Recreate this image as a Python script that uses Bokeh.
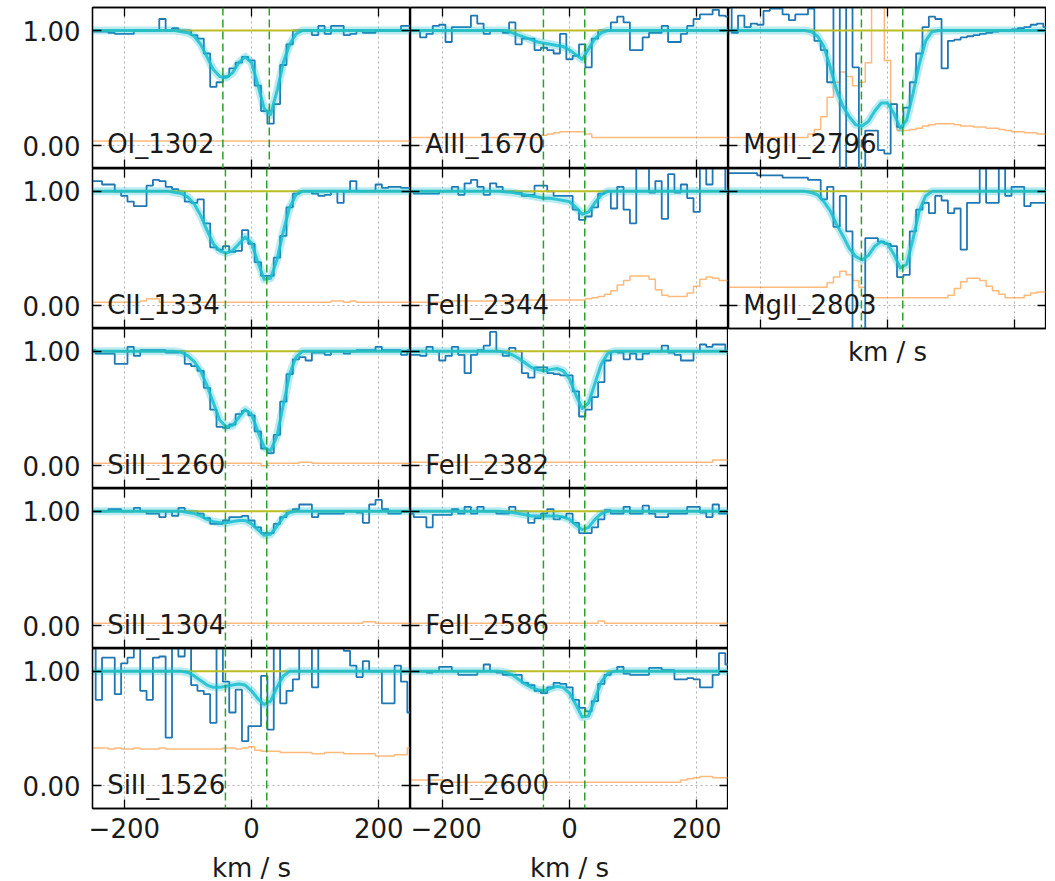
from bokeh.plotting import figure
from bokeh.layouts import row, column
from bokeh.models import Range1d, LinearAxis, FixedTicker, Grid, Span, ColumnDataSource
from bokeh.embed import file_html
from bokeh.resources import INLINE
from bokeh.core.properties import value

# ---------------------------------------------------------------------------
# Velocity grids (km/s): pixel centres of the spectra and knots of the model
# ---------------------------------------------------------------------------
vel = list(range(-250, 251, 10))
model_vel = [-250] + list(range(-140, 111, 10)) + [250]

CONTINUUM = 1.0

# ---------------------------------------------------------------------------
# Normalised flux per transition
# ---------------------------------------------------------------------------
flux_OI_1302 = [0.99, 0.99, 0.99, 0.98, 0.97, 0.97, 0.97, 1.0, 1.0, 1.0,
                1.0, 1.10, 1.0, 1.02, 1.0,
                1.0, 0.96, 0.93, 0.80, 0.51, 0.55, 0.60, 0.67, 0.72, 0.77,
                0.74,
                0.52, 0.30, 0.19, 0.36, 0.70, 0.88, 1.0, 1.0, 1.0, 0.96,
                1.04, 0.97, 1.04, 1.04, 0.96, 0.97, 1.0, 0.98, 0.98, 1.0,
                1.0, 1.0, 1.0, 1.04, 1.04]
flux_CII_1334 = [1.09, 1.09, 1.06, 1.06, 1.0, 0.96, 0.91, 0.87, 0.87, 1.05,
                 1.10, 1.09, 1.04, 1.02, 1.0,
                 0.91, 0.90, 0.93, 0.72, 0.51, 0.49, 0.52, 0.47, 0.48, 0.66,
                 0.54,
                 0.38, 0.26, 0.26, 0.42, 0.61, 0.86, 0.98, 1.0, 1.0, 0.98,
                 0.96, 0.97, 1.0, 0.90, 1.0, 1.09, 1.0, 1.0, 1.0, 1.06,
                 1.03, 1.04, 1.04, 1.03, 1.03]
flux_SiII_1260 = [1.01, 0.98, 0.98, 0.98, 0.89, 0.89, 1.04, 0.96, 1.01, 1.01,
                  1.01, 1.01, 0.99, 0.99, 1.0,
                  0.89, 0.87, 0.83, 0.68, 0.49, 0.34, 0.33, 0.36, 0.45, 0.48,
                  0.44,
                  0.30, 0.15, 0.11, 0.27, 0.56, 0.80, 0.93, 0.95, 0.92, 0.99,
                  0.99, 0.97, 1.0, 1.0, 0.98, 1.0, 1.01, 1.01, 1.01, 1.04,
                  1.01, 1.01, 1.01, 0.97, 1.01]
flux_SiII_1304 = [1.0, 1.0, 1.0, 1.02, 1.02, 1.0, 1.0, 1.03, 1.0, 0.98,
                  0.98, 0.95, 1.0, 0.96, 1.03,
                  1.0, 1.0, 0.98, 0.94, 0.89, 0.89, 0.92, 0.95, 0.95, 0.96,
                  0.92,
                  0.86, 0.81, 0.81, 0.89, 0.95, 1.0, 1.02, 1.06, 1.06, 0.95,
                  0.98, 0.98, 0.98, 0.98, 1.0, 1.0, 0.99, 0.90, 1.06, 1.10,
                  1.02, 0.98, 0.98, 1.0, 1.0]
flux_SiII_1526 = [1.25, 0.75, 1.12, 1.12, 0.80, 1.07, 1.12, 1.25, 0.83, 0.75,
                  1.12, 1.13, 0.42, 1.25, 1.13,
                  1.25, 0.88, 0.83, 0.80, 0.55, 1.25, 0.91, 0.64, 0.84, 0.39,
                  0.52,
                  0.52, 0.96, 0.49, 1.25, 0.72, 0.83, 0.93, 1.25, 1.25, 0.86,
                  1.25, 1.25, 1.25, 1.25, 1.18, 1.05, 0.95, 1.09, 1.0, 1.0,
                  0.72, 0.72, 1.05, 0.91, 0.64]
flux_AlII_1670 = [1.0, 1.0, 0.94, 0.97, 1.04, 1.05, 0.90, 1.03, 1.03, 1.03,
                  1.13, 1.06, 0.97, 1.0, 1.0,
                  0.98, 1.07, 0.88, 0.93, 0.93, 0.83, 0.85, 0.83, 0.80, 0.97,
                  0.75,
                  0.78, 0.88, 0.68, 0.93, 1.0, 1.0, 1.07, 1.12, 1.07, 0.83,
                  0.83, 0.94, 0.98, 0.98, 1.04, 0.90, 0.90, 0.97, 1.04, 1.10,
                  1.14, 1.14, 1.18, 1.13, 1.12]
flux_FeII_2344 = [1.0, 0.98, 0.98, 0.98, 0.98, 1.0, 1.0, 1.04, 0.97, 1.07,
                  1.10, 1.04, 0.97, 1.07, 1.04,
                  1.0, 1.0, 0.99, 0.96, 0.97, 1.05, 1.05, 1.0, 0.96, 0.96,
                  0.96,
                  0.84, 0.75, 0.78, 0.86, 0.98, 1.0, 0.85, 1.04, 0.84, 0.72,
                  1.25, 1.25, 0.99, 1.09, 0.76, 1.15, 0.99, 1.06, 0.94, 0.82,
                  1.25, 1.06, 1.25, 1.25, 1.0]
flux_FeII_2382 = [0.97, 0.97, 0.96, 1.04, 1.0, 0.92, 0.96, 1.04, 0.97, 0.81,
                  0.97, 1.01, 1.05, 1.17, 1.0,
                  0.96, 1.03, 1.0, 0.81, 0.77, 0.86, 0.86, 0.81, 0.80, 0.79,
                  0.79,
                  0.65, 0.43, 0.49, 0.60, 0.73, 0.92, 1.0, 0.99, 0.93, 0.98,
                  0.93, 0.98, 1.0, 1.0, 1.05, 0.99, 0.97, 0.92, 0.92, 1.0,
                  1.06, 1.04, 1.06, 1.06, 1.0]
flux_FeII_2586 = [0.98, 0.95, 0.95, 0.86, 0.97, 0.97, 0.97, 1.02, 0.98, 1.04,
                  0.98, 1.04, 1.0, 1.0, 0.98,
                  0.98, 1.04, 1.0, 1.0, 0.90, 0.94, 0.98, 1.02, 0.93, 0.95,
                  0.98,
                  0.90, 0.81, 0.81, 0.86, 0.93, 1.01, 0.98, 0.98, 1.04, 0.98,
                  0.98, 1.05, 0.98, 0.95, 0.95, 0.98, 0.98, 0.98, 1.04, 1.04,
                  0.99, 0.95, 1.06, 0.98, 0.98]
flux_FeII_2600 = [1.0, 1.0, 1.0, 0.99, 1.0, 1.04, 1.04, 1.0, 0.97, 0.97,
                  0.97, 1.0, 1.06, 1.0, 0.99,
                  0.97, 0.97, 0.97, 0.90, 0.88, 0.83, 0.81, 0.86, 0.90, 0.89,
                  0.86,
                  0.75, 0.68, 0.65, 0.74, 0.89, 0.97, 1.0, 1.04, 0.98, 0.97,
                  0.97, 0.97, 1.03, 1.03, 1.01, 1.01, 0.93, 0.93, 0.94, 0.93,
                  0.86, 0.86, 0.97, 1.16, 1.06]
flux_MgII_2796 = [1.20, 0.98, 1.13, 1.03, 1.06, 1.05, 1.17, 1.19, 1.19, 1.14,
                  1.09, 1.14, 1.14, 1.19, 0.91,
                  0.83, 0.55, 1.25, -0.25, 1.25, 0.68, -0.25, 0.13, 0.13, -0.04,
                  -0.07,
                  0.36, 0.16, 0.33, 0.55, 0.80, 1.03, 1.12, 1.10, 0.67, 0.91,
                  0.92, 0.94, 0.95, 0.96, 0.97, 0.98, 0.99, 1.0, 1.0, 1.01,
                  1.02, 1.03, 1.05, 1.06, 1.03]
flux_MgII_2803 = [1.16, 1.16, 1.16, 1.16, 1.16, 1.14, 1.14, 1.14, 1.14, 1.12,
                  1.12, 1.12, 1.12, 1.10, 1.10,
                  0.93, 1.04, 0.69, 0.96, 0.65, -0.25, -0.25, 0.59, 0.59, 0.56,
                  0.54,
                  0.52, 0.25, 0.27, 0.65, 0.84, 0.90, 0.81, 0.96, 0.92, 0.81,
                  0.85, 0.49, 0.90, 0.90, 1.25, 0.90, 0.90, 1.25, 0.96, 1.04,
                  1.04, 0.87, 0.90, 0.90, 0.90]

# ---------------------------------------------------------------------------
# 1-sigma flux errors
# ---------------------------------------------------------------------------
err_OI_1302 = [0.04, 0.04, 0.04, 0.04, 0.04, 0.04, 0.04, 0.04, 0.04, 0.04,
               0.04, 0.04, 0.04, 0.04, 0.04,
               0.04, 0.04, 0.04, 0.04, 0.04, 0.04, 0.04, 0.04, 0.04, 0.04,
               0.04,
               0.04, 0.04, 0.04, 0.04, 0.04, 0.04, 0.04, 0.04, 0.04, 0.04,
               0.04, 0.04, 0.04, 0.04, 0.04, 0.04, 0.04, 0.04, 0.04, 0.04,
               0.04, 0.04, 0.04, 0.04, 0.04]
err_CII_1334 = [0.03, 0.03, 0.03, 0.03, 0.03, 0.03, 0.03, 0.03, 0.04, 0.06,
                0.06, 0.03, 0.03, 0.03, 0.03,
                0.03, 0.03, 0.03, 0.03, 0.03, 0.03, 0.03, 0.03, 0.03, 0.03,
                0.03,
                0.03, 0.03, 0.03, 0.03, 0.03, 0.03, 0.03, 0.03, 0.03, 0.03,
                0.03, 0.03, 0.04, 0.04, 0.03, 0.04, 0.03, 0.03, 0.03, 0.03,
                0.03, 0.03, 0.03, 0.03, 0.03]
err_SiII_1260 = [0.02, 0.02, 0.02, 0.02, 0.02, 0.02, 0.02, 0.02, 0.02, 0.02,
                 0.02, 0.02, 0.02, 0.02, 0.02,
                 0.02, 0.02, 0.02, 0.02, 0.02, 0.02, 0.02, 0.02, 0.02, 0.02,
                 0.02,
                 0.02, 0.0, 0.02, 0.02, 0.02, 0.02, 0.02, 0.03, 0.03, 0.02,
                 0.02, 0.02, 0.02, 0.02, 0.02, 0.02, 0.02, 0.02, 0.02, 0.02,
                 0.02, 0.02, 0.02, 0.02, 0.02]
err_SiII_1304 = [0.02, 0.02, 0.02, 0.02, 0.02, 0.02, 0.02, 0.02, 0.02, 0.02,
                 0.02, 0.02, 0.02, 0.02, 0.02,
                 0.02, 0.02, 0.02, 0.02, 0.02, 0.02, 0.02, 0.02, 0.02, 0.02,
                 0.02,
                 0.02, 0.02, 0.02, 0.02, 0.02, 0.02, 0.02, 0.02, 0.02, 0.02,
                 0.02, 0.02, 0.02, 0.02, 0.02, 0.02, 0.02, 0.035, 0.035, 0.02,
                 0.02, 0.02, 0.02, 0.02, 0.02]
err_SiII_1526 = [0.33, 0.33, 0.33, 0.32, 0.33, 0.32, 0.32, 0.33, 0.32, 0.32,
                 0.32, 0.33, 0.32, 0.32, 0.32,
                 0.32, 0.32, 0.32, 0.32, 0.32, 0.32, 0.33, 0.33, 0.32, 0.33,
                 0.34,
                 0.31, 0.30, 0.30, 0.30, 0.29, 0.29, 0.29, 0.29, 0.29, 0.28,
                 0.28, 0.29, 0.29, 0.29, 0.28, 0.28, 0.28, 0.28, 0.28, 0.26,
                 0.26, 0.26, 0.27, 0.27, 0.33]
err_AlII_1670 = [0.07, 0.07, 0.07, 0.07, 0.07, 0.07, 0.07, 0.07, 0.07, 0.07,
                 0.07, 0.07, 0.07, 0.07, 0.07,
                 0.07, 0.07, 0.07, 0.07, 0.07, 0.07, 0.09, 0.10, 0.11, 0.12,
                 0.12,
                 0.12, 0.12, 0.10, 0.07, 0.07, 0.07, 0.07, 0.07, 0.07, 0.07,
                 0.07, 0.07, 0.07, 0.07, 0.07, 0.07, 0.07, 0.07, 0.07, 0.07,
                 0.07, 0.07, 0.07, 0.07, 0.07]
err_FeII_2344 = [0.03, 0.03, 0.03, 0.03, 0.03, 0.03, 0.03, 0.04, 0.04, 0.04,
                 0.04, 0.04, 0.04, 0.04, 0.04,
                 0.04, 0.04, 0.05, 0.05, 0.05, 0.05, 0.05, 0.05, 0.05, 0.05,
                 0.05,
                 0.05, 0.05, 0.06, 0.07, 0.08, 0.10, 0.13, 0.18, 0.22, 0.26,
                 0.26, 0.26, 0.23, 0.14, 0.09, 0.08, 0.08, 0.08, 0.11, 0.17,
                 0.23, 0.25, 0.24, 0.22, 0.22]
err_FeII_2382 = [0.03, 0.03, 0.03, 0.03, 0.03, 0.03, 0.03, 0.03, 0.03, 0.03,
                 0.03, 0.03, 0.03, 0.03, 0.03,
                 0.03, 0.03, 0.03, 0.03, 0.03, 0.03, 0.03, 0.03, 0.03, 0.03,
                 0.03,
                 0.03, 0.03, 0.03, 0.03, 0.03, 0.03, 0.03, 0.03, 0.03, 0.03,
                 0.03, 0.03, 0.03, 0.03, 0.03, 0.03, 0.03, 0.03, 0.03, 0.03,
                 0.03, 0.03, 0.05, 0.05, 0.05]
err_FeII_2586 = [0.02, 0.02, 0.02, 0.02, 0.02, 0.02, 0.02, 0.02, 0.02, 0.02,
                 0.02, 0.02, 0.02, 0.02, 0.02,
                 0.02, 0.02, 0.02, 0.02, 0.02, 0.02, 0.02, 0.02, 0.02, 0.02,
                 0.02,
                 0.02, 0.02, 0.02, 0.02, 0.04, 0.02, 0.02, 0.02, 0.02, 0.02,
                 0.02, 0.02, 0.02, 0.02, 0.02, 0.02, 0.02, 0.02, 0.02, 0.02,
                 0.02, 0.02, 0.02, 0.02, 0.02]
err_FeII_2600 = [0.05, 0.05, 0.05, 0.05, 0.05, 0.05, 0.03, 0.03, 0.03, 0.03,
                 0.03, 0.03, 0.03, 0.03, 0.03,
                 0.03, 0.03, 0.03, 0.03, 0.03, 0.03, 0.03, 0.03, 0.03, 0.03,
                 0.03,
                 0.03, 0.03, 0.03, 0.03, 0.03, 0.03, 0.03, 0.03, 0.03, 0.03,
                 0.03, 0.03, 0.03, 0.03, 0.03, 0.03, 0.03, 0.05, 0.06, 0.07,
                 0.08, 0.08, 0.07, 0.07, 0.07]
err_MgII_2796 = [0.07, 0.07, 0.07, 0.07, 0.07, 0.07, 0.07, 0.07, 0.07, 0.07,
                 0.07, 0.07, 0.07, 0.10, 0.14,
                 0.25, 0.42, 0.55, 0.64, 0.60, 0.52, 0.55, 0.72, 1.30, 1.30,
                 0.74,
                 0.36, 0.13, 0.13, 0.14, 0.15, 0.17, 0.18, 0.19, 0.19, 0.19,
                 0.18, 0.17, 0.17, 0.16, 0.16, 0.15, 0.15, 0.14, 0.13, 0.12,
                 0.12, 0.11, 0.11, 0.10, 0.10]
err_MgII_2803 = [0.16, 0.16, 0.16, 0.16, 0.16, 0.16, 0.16, 0.16, 0.16, 0.16,
                 0.16, 0.16, 0.16, 0.16, 0.16,
                 0.16, 0.20, 0.25, 0.30, 0.27, 0.22, 0.16, 0.09, 0.07, 0.07,
                 0.07,
                 0.07, 0.07, 0.07, 0.07, 0.07, 0.07, 0.07, 0.07, 0.07, 0.09,
                 0.15, 0.21, 0.24, 0.24, 0.22, 0.17, 0.13, 0.10, 0.07, 0.07,
                 0.07, 0.09, 0.11, 0.12, 0.12]

# ---------------------------------------------------------------------------
# Two-component absorption model, sampled on model_vel
# ---------------------------------------------------------------------------
model_OI_1302 = [1, 1, 1, 1.0, 0.99, 0.98, 0.95, 0.88, 0.77, 0.66, 0.60, 0.59, 0.63, 0.72,
                 0.77, 0.72, 0.53, 0.32, 0.27, 0.47, 0.72, 0.88, 0.97, 1.0, 1, 1, 1, 1]
model_CII_1334 = [1, 1, 1, 0.99, 0.98, 0.95, 0.89, 0.79, 0.66, 0.54, 0.48, 0.46, 0.48, 0.54,
                  0.60, 0.55, 0.38, 0.23, 0.24, 0.40, 0.65, 0.86, 0.97, 1.0, 1, 1, 1, 1]
model_SiII_1260 = [1, 1, 1, 1.0, 0.99, 0.96, 0.91, 0.83, 0.70, 0.55, 0.40, 0.34, 0.35, 0.42,
                   0.49, 0.45, 0.30, 0.16, 0.13, 0.26, 0.53, 0.80, 0.95, 1.0, 1, 1, 1, 1]
model_SiII_1304 = [1, 1, 1, 1, 1.0, 0.99, 0.98, 0.96, 0.93, 0.91, 0.90, 0.90, 0.91, 0.92,
                   0.92, 0.89, 0.84, 0.79, 0.80, 0.87, 0.95, 0.99, 1.0, 1, 1, 1, 1, 1]
model_SiII_1526 = [1, 1, 1, 1, 1.0, 0.99, 0.96, 0.92, 0.88, 0.86, 0.86, 0.87, 0.88, 0.89,
                   0.88, 0.83, 0.76, 0.71, 0.74, 0.86, 0.96, 1.0, 1, 1, 1, 1, 1, 1]
model_AlII_1670 = [1, 1, 1, 1, 1, 1.0, 0.98, 0.96, 0.94, 0.92, 0.90, 0.89, 0.88, 0.87,
                   0.86, 0.83, 0.79, 0.75, 0.84, 0.93, 0.98, 1.0, 1, 1, 1, 1, 1, 1]
model_FeII_2344 = [1, 1, 1, 1, 1.0, 0.995, 0.99, 0.98, 0.97, 0.96, 0.95, 0.94, 0.94, 0.93,
                   0.92, 0.91, 0.86, 0.80, 0.82, 0.90, 0.97, 1.0, 1, 1, 1, 1, 1, 1]
model_FeII_2382 = [1, 1, 1, 1, 1.0, 0.99, 0.97, 0.94, 0.90, 0.86, 0.84, 0.83, 0.84, 0.85,
                   0.83, 0.76, 0.62, 0.50, 0.55, 0.72, 0.89, 0.98, 1.0, 1, 1, 1, 1, 1]
model_FeII_2586 = [1, 1, 1, 1, 1.0, 0.995, 0.99, 0.98, 0.97, 0.96, 0.96, 0.96, 0.96, 0.96,
                   0.95, 0.93, 0.88, 0.84, 0.86, 0.93, 0.98, 1.0, 1, 1, 1, 1, 1, 1]
model_FeII_2600 = [1, 1, 1, 1, 1.0, 0.99, 0.97, 0.93, 0.89, 0.86, 0.84, 0.83, 0.85, 0.87,
                   0.86, 0.81, 0.71, 0.60, 0.61, 0.76, 0.91, 0.98, 1.0, 1, 1, 1, 1, 1]
model_MgII_2796 = [1, 1.0, 1.0, 0.99, 0.95, 0.86, 0.68, 0.48, 0.34, 0.25, 0.18, 0.17, 0.21, 0.30,
                   0.37, 0.37, 0.28, 0.15, 0.22, 0.45, 0.71, 0.91, 0.99, 1.0, 1, 1, 1, 1]
model_MgII_2803 = [1, 1.0, 1.0, 0.99, 0.97, 0.91, 0.83, 0.71, 0.61, 0.50, 0.43, 0.40, 0.44, 0.52,
                   0.56, 0.54, 0.45, 0.33, 0.36, 0.58, 0.83, 0.96, 1.0, 1, 1, 1, 1, 1]

# Component centroids (km/s) marked in each panel
comps_OI_1302 = [-45, 28]
comps_default = [-41, 24]

# Panels laid out column by column: (label, flux, error, model, components)
columns_spec = [
    [("OI_1302", flux_OI_1302, err_OI_1302, model_OI_1302, comps_OI_1302),
     ("CII_1334", flux_CII_1334, err_CII_1334, model_CII_1334, comps_default),
     ("SiII_1260", flux_SiII_1260, err_SiII_1260, model_SiII_1260, comps_default),
     ("SiII_1304", flux_SiII_1304, err_SiII_1304, model_SiII_1304, comps_default),
     ("SiII_1526", flux_SiII_1526, err_SiII_1526, model_SiII_1526, comps_default)],
    [("AlII_1670", flux_AlII_1670, err_AlII_1670, model_AlII_1670, comps_default),
     ("FeII_2344", flux_FeII_2344, err_FeII_2344, model_FeII_2344, comps_default),
     ("FeII_2382", flux_FeII_2382, err_FeII_2382, model_FeII_2382, comps_default),
     ("FeII_2586", flux_FeII_2586, err_FeII_2586, model_FeII_2586, comps_default),
     ("FeII_2600", flux_FeII_2600, err_FeII_2600, model_FeII_2600, comps_default)],
    [("MgII_2796", flux_MgII_2796, err_MgII_2796, model_MgII_2796, comps_default),
     ("MgII_2803", flux_MgII_2803, err_MgII_2803, model_MgII_2803, comps_default)],
]

XTICKS = [-200, 0, 200]
YTICKS = [0, 1]
X_LABELS = {-200: "\u2212200", 0: "0", 200: "200"}
Y_LABELS = {0: "0.00", 1: "1.00"}

FONT = "DejaVu Sans"
TICK_FS = "26px"
LABEL_FS = "26px"
FRAME_W = 318
ROW_H = [161, 160, 160, 160, 160]
LEFT_PAD = 92
TOP_PAD = 7
NAME_X = -227
NAME_Y = 0.01

C_DATA = "#1f77b4"
C_ERR = "#ff7f0e"
C_CONT = "#bcbd22"
C_MODEL = "#17becf"
C_COMP = "#2ca02c"
C_GRID = "#b0b0b0"
C_TEXT = "#1a1a1a"


def add_axis(p, side, ticks, overrides, show_labels, title=None, title_standoff=6):
    ax = LinearAxis(ticker=FixedTicker(ticks=ticks))
    ax.major_tick_in = 9
    ax.major_tick_out = 0
    ax.minor_tick_in = 0
    ax.minor_tick_out = 0
    ax.major_tick_line_color = "black"
    ax.major_tick_line_width = 1.3
    ax.axis_line_color = "black"
    ax.axis_line_width = 1.3
    if show_labels:
        ax.major_label_overrides = overrides
        ax.major_label_text_font = FONT
        ax.major_label_text_font_size = TICK_FS
        ax.major_label_text_color = C_TEXT
        ax.major_label_standoff = 12 if side == "left" else 9
    else:
        ax.major_label_text_font_size = "0px"
        ax.major_label_text_color = None
        ax.major_label_standoff = 0
    if title:
        ax.axis_label = title
        ax.axis_label_text_font = FONT
        ax.axis_label_text_font_size = LABEL_FS
        ax.axis_label_text_font_style = "normal"
        ax.axis_label_text_color = C_TEXT
        ax.axis_label_standoff = title_standoff
    p.add_layout(ax, side)


def make_panel(label, flux, err, model, comps, col, r, last):
    left_labels = col == 0
    bottom_ticks = last and col < 2
    bottom_title = "km / s" if last else None

    p = figure(frame_width=FRAME_W, frame_height=ROW_H[r],
               x_range=Range1d(-250, 250), y_range=Range1d(-0.2, 1.2),
               x_axis_type=None, y_axis_type=None,
               output_backend="svg", toolbar_location=None,
               min_border_left=LEFT_PAD if left_labels else 0,
               min_border_right=0,
               min_border_top=TOP_PAD if r == 0 else 0,
               min_border_bottom=0)
    p.outline_line_color = "black"
    p.outline_line_width = 1.3
    p.background_fill_color = "white"
    p.border_fill_color = "white"

    add_axis(p, "below", XTICKS, X_LABELS, bottom_ticks, bottom_title,
             title_standoff=12 if bottom_ticks else 8)
    add_axis(p, "above", XTICKS, X_LABELS, False)
    add_axis(p, "left", YTICKS, Y_LABELS, left_labels)
    add_axis(p, "right", YTICKS, Y_LABELS, False)

    p.add_layout(Grid(dimension=0, ticker=FixedTicker(ticks=XTICKS),
                      grid_line_color=C_GRID, grid_line_dash="2 3",
                      grid_line_width=1))
    p.add_layout(Grid(dimension=1, ticker=FixedTicker(ticks=YTICKS),
                      grid_line_color=C_GRID, grid_line_dash="2 3",
                      grid_line_width=1))

    src = ColumnDataSource(dict(v=vel, f=flux, e=err))
    p.step(x="v", y="e", source=src, mode="center",
           line_color=C_ERR, line_alpha=0.55, line_width=1.5)
    p.step(x="v", y="f", source=src, mode="center",
           line_color=C_DATA, line_width=1.8)

    p.line(x=[vel[0], vel[-1]], y=[CONTINUUM, CONTINUUM],
           line_color=C_CONT, line_width=2)

    msrc = ColumnDataSource(dict(v=model_vel, m=model))
    p.line(x="v", y="m", source=msrc, line_color=C_MODEL,
           line_width=8, line_alpha=0.3, line_join="round")
    p.line(x="v", y="m", source=msrc, line_color=C_MODEL,
           line_width=3, line_alpha=0.85, line_join="round")

    for c in comps:
        p.add_layout(Span(location=c, dimension="height", line_color=C_COMP,
                          line_width=1.5, line_dash="8 4"))

    p.text(x=[NAME_X], y=[NAME_Y], text=[label],
           text_font=value(FONT), text_font_size=LABEL_FS,
           text_color=C_TEXT, text_baseline="alphabetic",
           text_align="left", level="overlay")
    return p


cols = []
for ci, spec in enumerate(columns_spec):
    figs = []
    for ri, (label, flux, err, model, comps) in enumerate(spec):
        figs.append(make_panel(label, flux, err, model, comps, ci, ri,
                               ri == len(spec) - 1))
    cols.append(column(*figs, spacing=0))

layout = row(*cols, spacing=0)

open("out.html", "w").write(file_html(layout, INLINE))
